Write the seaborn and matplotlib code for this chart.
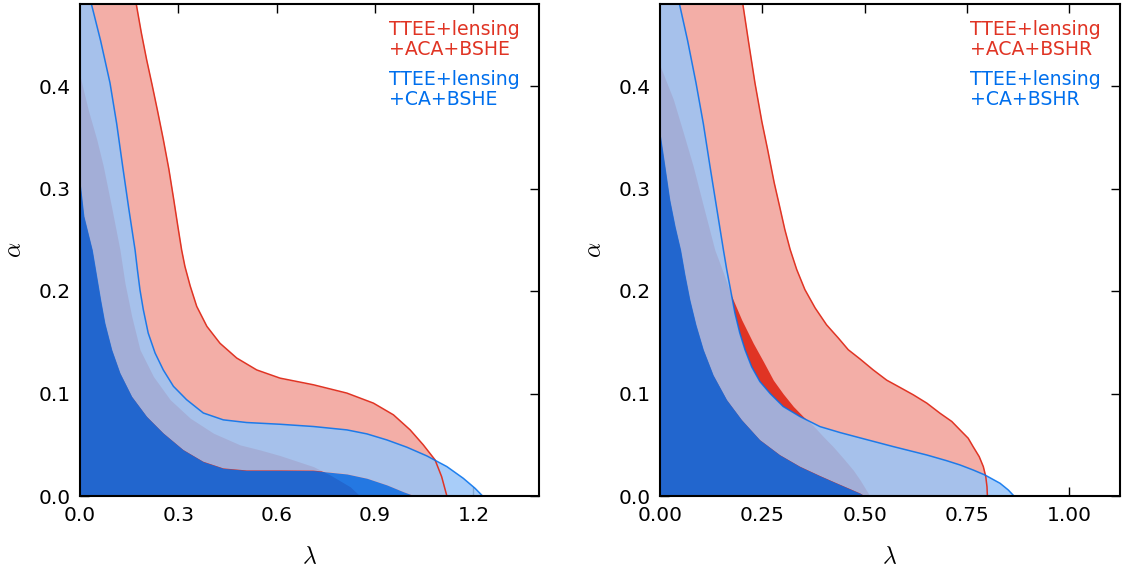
import matplotlib
matplotlib.use("Agg")
import matplotlib.pyplot as plt
import matplotlib.colors as mcolors
import numpy as np
import seaborn as sns
from matplotlib.ticker import FormatStrFormatter

sns.set_style("ticks")
plt.rcParams['font.family'] = ['DejaVu Sans']
plt.rcParams['mathtext.fontset'] = 'cm'
plt.rcParams['text.color'] = 'black'
plt.rcParams['axes.labelcolor'] = 'black'
plt.rcParams['xtick.color'] = 'black'
plt.rcParams['ytick.color'] = 'black'
plt.rcParams['axes.edgecolor'] = 'black'

RED = '#E03424'
BLUE = '#006FED'

# ---- left panel (BSHE): contour boundaries (lambda, alpha) ----
red95_lam_L = [0.159, 0.171, 0.187, 0.203, 0.220, 0.237, 0.254, 0.271, 0.286, 0.299, 0.310, 0.320,
               0.336, 0.356, 0.387, 0.427, 0.478, 0.539, 0.610, 0.712, 0.814, 0.895, 0.956, 1.007,
               1.047, 1.083, 1.103, 1.119]
red95_alp_L = [0.500, 0.481, 0.452, 0.426, 0.401, 0.375, 0.348, 0.319, 0.289, 0.262, 0.240, 0.224,
               0.205, 0.185, 0.1655, 0.149, 0.1346, 0.123, 0.115, 0.1085, 0.1004, 0.0906, 0.0792,
               0.0645, 0.0499, 0.0352, 0.0189, 0.0]
red68_lam_L = [0.0, 0.025, 0.051, 0.071, 0.097, 0.122, 0.137, 0.158, 0.183, 0.224, 0.275, 0.336,
               0.407, 0.488, 0.549, 0.610, 0.712, 0.763, 0.824, 0.854]
red68_alp_L = [0.410, 0.377, 0.348, 0.322, 0.281, 0.240, 0.208, 0.175, 0.1427, 0.1166, 0.094, 0.076,
               0.0613, 0.0499, 0.045, 0.0395, 0.0287, 0.0205, 0.009, 0.0]
blue95_lam_L = [0.020, 0.034, 0.063, 0.0915, 0.112, 0.130, 0.1485, 0.168, 0.175, 0.183, 0.193, 0.208,
                0.229, 0.254, 0.285, 0.325, 0.376, 0.437, 0.508, 0.610, 0.712, 0.814, 0.875, 0.936,
                0.997, 1.058, 1.119, 1.169, 1.205, 1.228]
blue95_alp_L = [0.500, 0.481, 0.444, 0.403, 0.363, 0.322, 0.281, 0.240, 0.221, 0.201, 0.182, 0.159,
                0.1395, 0.123, 0.107, 0.094, 0.081, 0.0743, 0.0717, 0.0700, 0.0678, 0.0645, 0.0606,
                0.0547, 0.0476, 0.0391, 0.0287, 0.0173, 0.0075, 0.0]
blue68_lam_L = [0.0, 0.012, 0.0376, 0.051, 0.063, 0.076, 0.097, 0.122, 0.158, 0.2035, 0.254, 0.315,
                0.376, 0.437, 0.508, 0.610, 0.712, 0.814, 0.875, 0.936, 0.986, 1.022]
blue68_alp_L = [0.307, 0.273, 0.240, 0.2145, 0.1916, 0.1688, 0.1427, 0.120, 0.097, 0.0775, 0.0613,
                0.045, 0.0335, 0.027, 0.0250, 0.0250, 0.0248, 0.0215, 0.0173, 0.0108, 0.0042, 0.0]

# ---- right panel (BSHR) ----
red95_lam_R = [0.195, 0.202, 0.216, 0.232, 0.249, 0.263, 0.279, 0.292, 0.305, 0.318, 0.334, 0.354,
               0.379, 0.407, 0.436, 0.460, 0.489, 0.521, 0.554, 0.586, 0.619, 0.652, 0.684, 0.713,
               0.733, 0.753, 0.765, 0.780, 0.790, 0.796, 0.799, 0.800]
red95_alp_R = [0.500, 0.481, 0.444, 0.403, 0.365, 0.338, 0.3057, 0.283, 0.260, 0.2405, 0.221, 0.2014,
               0.1835, 0.167, 0.154, 0.1427, 0.1336, 0.123, 0.113, 0.106, 0.0987, 0.0906, 0.0808,
               0.0727, 0.0645, 0.0564, 0.0482, 0.0384, 0.0287, 0.0189, 0.009, 0.0]
red68_lam_R = [0.0, 0.0326, 0.057, 0.081, 0.106, 0.134, 0.155, 0.175, 0.1995, 0.228, 0.2525, 0.277,
               0.301, 0.326, 0.350, 0.375, 0.399, 0.423, 0.448, 0.472, 0.489, 0.513]
red68_alp_R = [0.420, 0.387, 0.3545, 0.322, 0.283, 0.240, 0.2177, 0.195, 0.172, 0.149, 0.1313, 0.113,
               0.0997, 0.0873, 0.0775, 0.0684, 0.058, 0.0482, 0.0368, 0.0254, 0.0156, 0.0]
blue95_lam_R = [0.037, 0.047, 0.0676, 0.088, 0.106, 0.122, 0.1385, 0.155, 0.163, 0.173, 0.183, 0.195,
                0.2077, 0.224, 0.244, 0.269, 0.301, 0.342, 0.391, 0.440, 0.489, 0.570, 0.652, 0.700,
                0.733, 0.765, 0.794, 0.831, 0.851, 0.865]
blue95_alp_R = [0.500, 0.481, 0.444, 0.403, 0.363, 0.322, 0.281, 0.240, 0.221, 0.200, 0.1786, 0.159,
                0.1427, 0.126, 0.1117, 0.100, 0.0873, 0.0775, 0.0677, 0.0619, 0.0567, 0.0482, 0.040,
                0.0345, 0.0303, 0.0254, 0.0205, 0.0124, 0.0059, 0.0]
blue68_lam_R = [0.0, 0.012, 0.024, 0.037, 0.0505, 0.061, 0.073, 0.088, 0.106, 0.130, 0.163, 0.1995,
                0.244, 0.293, 0.342, 0.391, 0.432, 0.489, 0.500]
blue68_alp_R = [0.3545, 0.322, 0.289, 0.263, 0.240, 0.216, 0.1916, 0.167, 0.1427, 0.118, 0.0938,
                0.0743, 0.0547, 0.040, 0.0287, 0.0196, 0.0124, 0.0026, 0.0]

labels_L = ["TTEE+lensing\n+ACA+BSHE", "TTEE+lensing\n+CA+BSHE"]
labels_R = ["TTEE+lensing\n+ACA+BSHR", "TTEE+lensing\n+CA+BSHR"]
xticks_L = [0.0, 0.3, 0.6, 0.9, 1.2]
xticks_R = [0.0, 0.25, 0.5, 0.75, 1.0]
yticks = [0.0, 0.1, 0.2, 0.3, 0.4]


def pale(c, f=0.6):
    rgb = np.array(mcolors.to_rgb(c))
    return tuple(rgb * (1 - f) + f)


def fill_region(ax, lam, alp, color, alpha=1.0):
    # region between the boundary and the lower-left corner
    ax.fill_between(np.r_[0, lam], np.r_[alp[0], alp], 0, color=color, alpha=alpha, lw=0)


def fill_band(ax, lam_out, alp_out, lam_in, alp_in, color, alpha=1.0):
    x = np.r_[0, lam_out, lam_in[::-1]]
    y = np.r_[alp_out[0], alp_out, alp_in[::-1]]
    ax.fill(x, y, color=color, alpha=alpha, lw=0)


def plot_panel(ax, r95, r68, b95, b68, labels, xticks, xmax, xfmt):
    # red: opaque filled contours
    fill_region(ax, *r95, pale(RED))
    fill_region(ax, *r68, RED)
    # blue: added on top with alpha
    fill_band(ax, *b95, *b68, pale(BLUE), alpha=0.85)
    fill_region(ax, *b68, BLUE, alpha=0.85)

    sns.lineplot(x=r95[0], y=r95[1], sort=False, estimator=None, color=RED, lw=1.1, ax=ax)
    sns.lineplot(x=b95[0], y=b95[1], sort=False, estimator=None, color=BLUE, alpha=0.85, lw=1.1, ax=ax)

    ax.set_xlim(0, xmax)
    ax.set_ylim(0, 0.48)
    ax.set_xticks(xticks)
    ax.set_yticks(yticks)
    ax.xaxis.set_major_formatter(FormatStrFormatter(xfmt))
    ax.yaxis.set_major_formatter(FormatStrFormatter('%.1f'))
    ax.tick_params(direction='in', top=True, right=True, length=6.5, width=1,
                   labelsize=14.5, pad=7)
    for s in ax.spines.values():
        s.set_linewidth(1.5)
    ax.set_xlabel(r'$\lambda$', fontsize=17, labelpad=14)
    ax.set_ylabel(r'$\alpha$', fontsize=17, labelpad=9)

    ax.text(0.673, 0.968, labels[0], color=RED, transform=ax.transAxes,
            ha='left', va='top', fontsize=13.6, linespacing=1.1)
    ax.text(0.673, 0.866, labels[1], color=BLUE, transform=ax.transAxes,
            ha='left', va='top', fontsize=13.6, linespacing=1.1)


fig = plt.figure(figsize=(11.28, 5.71), dpi=100)
ax1 = fig.add_axes([80 / 1128, 75 / 571, 459 / 1128, 492 / 571])
ax2 = fig.add_axes([660 / 1128, 75 / 571, 460 / 1128, 492 / 571])

plot_panel(ax1, (red95_lam_L, red95_alp_L), (red68_lam_L, red68_alp_L),
           (blue95_lam_L, blue95_alp_L), (blue68_lam_L, blue68_alp_L),
           labels_L, xticks_L, 1.40, '%.1f')
plot_panel(ax2, (red95_lam_R, red95_alp_R), (red68_lam_R, red68_alp_R),
           (blue95_lam_R, blue95_alp_R), (blue68_lam_R, blue68_alp_R),
           labels_R, xticks_R, 1.124, '%.2f')

fig.savefig('out.png', dpi=100)
